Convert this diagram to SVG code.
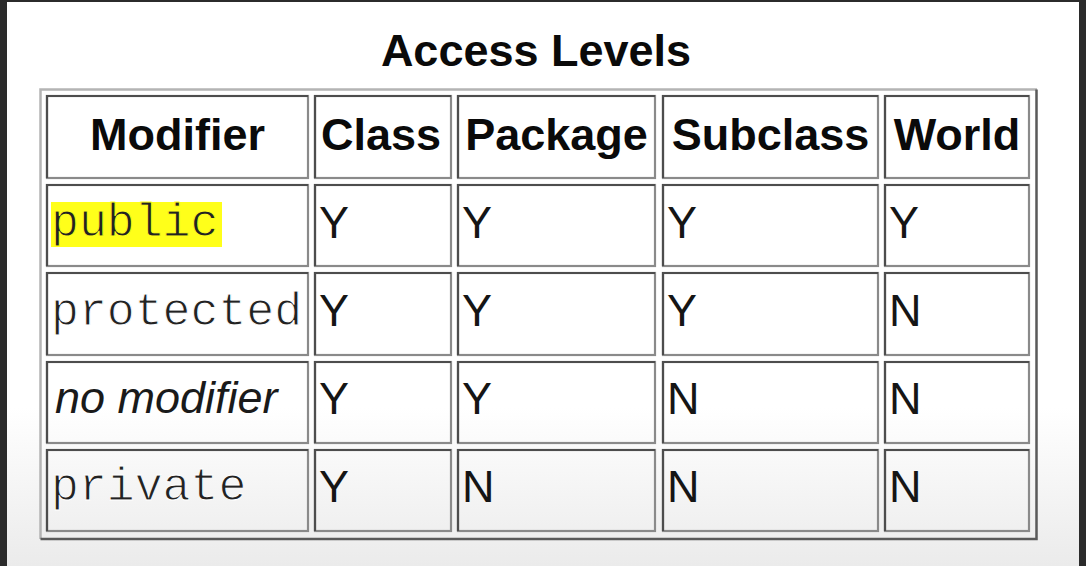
<svg xmlns="http://www.w3.org/2000/svg" width="1086" height="566" viewBox="0 0 1086 566">
  <defs>
    <linearGradient id="bg" x1="0" y1="0" x2="0" y2="1">
      <stop offset="0" stop-color="#ffffff"/>
      <stop offset="0.72" stop-color="#ffffff"/>
      <stop offset="1" stop-color="#ebebeb"/>
    </linearGradient>
  </defs>
  <style>
    .frame { fill: #2b2b2b; }
    .cell { fill: none; stroke: #8a8a8a; stroke-width: 2.2; }
    .cell-tl { fill: none; stroke: #4d4d4d; stroke-width: 2.2; }
    .outer-tl { fill: none; stroke: #b4b4b4; stroke-width: 2.5; }
    .outer-br { fill: none; stroke: #5a5a5a; stroke-width: 2.5; }
    .title { font-family: "Liberation Sans", Arial, sans-serif; font-weight: bold; font-size: 45px; fill: #0a0a0a; text-anchor: middle; }
    .hdr { font-family: "Liberation Sans", Arial, sans-serif; font-weight: bold; font-size: 45px; fill: #0a0a0a; text-anchor: middle; }
    .yn { font-family: "Liberation Sans", Arial, sans-serif; font-size: 45px; fill: #151515; }
    .mono { font-family: "Liberation Mono", "Courier New", monospace; font-size: 46.5px; fill: #222222; stroke: #ffffff; stroke-width: 1px; }
    .mono.onhl { stroke: #ffff1a; }
    .ital { font-family: "Liberation Sans", Arial, sans-serif; font-style: italic; font-size: 45px; fill: #1a1a1a; }
    .hl { fill: #ffff1a; }
  </style>

  <!-- background and screen frame -->
  <rect x="0" y="0" width="1086" height="566" fill="url(#bg)"/>
  <rect class="frame" x="0" y="0" width="1086" height="2"/>
  <rect class="frame" x="0" y="0" width="7" height="566"/>
  <rect class="frame" x="1079" y="0" width="7" height="566"/>

  <text class="title" x="536" y="66">Access Levels</text>

  <!-- outer table border (outset) -->
  <g id="table-border">
    <polyline class="outer-tl" points="40.5,539 40.5,89.5 1037,89.5"/>
    <polyline class="outer-br" points="40.5,539 1036.5,539 1036.5,89.5"/>
  </g>

  <!-- header row -->
  <g id="h-modifier">
    <rect class="cell" x="47" y="96" width="261" height="82"/>
    <polyline class="cell-tl" points="47,178 47,96 308,96"/>
    <text class="hdr" x="177.5" y="150">Modifier</text>
  </g>
  <g id="h-class">
    <rect class="cell" x="315" y="96" width="136" height="82"/>
    <polyline class="cell-tl" points="315,178 315,96 451,96"/>
    <text class="hdr" x="381" y="150">Class</text>
  </g>
  <g id="h-package">
    <rect class="cell" x="458" y="96" width="197" height="82"/>
    <polyline class="cell-tl" points="458,178 458,96 655,96"/>
    <text class="hdr" x="556.5" y="150">Package</text>
  </g>
  <g id="h-subclass">
    <rect class="cell" x="663" y="96" width="215" height="82"/>
    <polyline class="cell-tl" points="663,178 663,96 878,96"/>
    <text class="hdr" x="770.5" y="150">Subclass</text>
  </g>
  <g id="h-world">
    <rect class="cell" x="885" y="96" width="144" height="82"/>
    <polyline class="cell-tl" points="885,178 885,96 1029,96"/>
    <text class="hdr" x="957" y="150">World</text>
  </g>

  <!-- row: public -->
  <g id="r1-modifier">
    <rect class="cell" x="47" y="185" width="261" height="81"/>
    <polyline class="cell-tl" points="47,266 47,185 308,185"/>
    <rect class="hl" x="51" y="202" width="171" height="45"/>
    <text class="mono onhl" x="51" y="236">public</text>
  </g>
  <g id="r1-class">
    <rect class="cell" x="315" y="185" width="136" height="81"/>
    <polyline class="cell-tl" points="315,266 315,185 451,185"/>
    <text class="yn" x="319" y="238">Y</text>
  </g>
  <g id="r1-package">
    <rect class="cell" x="458" y="185" width="197" height="81"/>
    <polyline class="cell-tl" points="458,266 458,185 655,185"/>
    <text class="yn" x="462" y="238">Y</text>
  </g>
  <g id="r1-subclass">
    <rect class="cell" x="663" y="185" width="215" height="81"/>
    <polyline class="cell-tl" points="663,266 663,185 878,185"/>
    <text class="yn" x="667" y="238">Y</text>
  </g>
  <g id="r1-world">
    <rect class="cell" x="885" y="185" width="144" height="81"/>
    <polyline class="cell-tl" points="885,266 885,185 1029,185"/>
    <text class="yn" x="889" y="238">Y</text>
  </g>

  <!-- row: protected -->
  <g id="r2-modifier">
    <rect class="cell" x="47" y="273" width="261" height="82"/>
    <polyline class="cell-tl" points="47,355 47,273 308,273"/>
    <text class="mono" x="51" y="325">protected</text>
  </g>
  <g id="r2-class">
    <rect class="cell" x="315" y="273" width="136" height="82"/>
    <polyline class="cell-tl" points="315,355 315,273 451,273"/>
    <text class="yn" x="319" y="326">Y</text>
  </g>
  <g id="r2-package">
    <rect class="cell" x="458" y="273" width="197" height="82"/>
    <polyline class="cell-tl" points="458,355 458,273 655,273"/>
    <text class="yn" x="462" y="326">Y</text>
  </g>
  <g id="r2-subclass">
    <rect class="cell" x="663" y="273" width="215" height="82"/>
    <polyline class="cell-tl" points="663,355 663,273 878,273"/>
    <text class="yn" x="667" y="326">Y</text>
  </g>
  <g id="r2-world">
    <rect class="cell" x="885" y="273" width="144" height="82"/>
    <polyline class="cell-tl" points="885,355 885,273 1029,273"/>
    <text class="yn" x="889" y="326">N</text>
  </g>

  <!-- row: no modifier -->
  <g id="r3-modifier">
    <rect class="cell" x="47" y="362" width="261" height="81"/>
    <polyline class="cell-tl" points="47,443 47,362 308,362"/>
    <text class="ital" x="55" y="413">no modifier</text>
  </g>
  <g id="r3-class">
    <rect class="cell" x="315" y="362" width="136" height="81"/>
    <polyline class="cell-tl" points="315,443 315,362 451,362"/>
    <text class="yn" x="319" y="414">Y</text>
  </g>
  <g id="r3-package">
    <rect class="cell" x="458" y="362" width="197" height="81"/>
    <polyline class="cell-tl" points="458,443 458,362 655,362"/>
    <text class="yn" x="462" y="414">Y</text>
  </g>
  <g id="r3-subclass">
    <rect class="cell" x="663" y="362" width="215" height="81"/>
    <polyline class="cell-tl" points="663,443 663,362 878,362"/>
    <text class="yn" x="667" y="414">N</text>
  </g>
  <g id="r3-world">
    <rect class="cell" x="885" y="362" width="144" height="81"/>
    <polyline class="cell-tl" points="885,443 885,362 1029,362"/>
    <text class="yn" x="889" y="414">N</text>
  </g>

  <!-- row: private -->
  <g id="r4-modifier">
    <rect class="cell" x="47" y="450" width="261" height="81"/>
    <polyline class="cell-tl" points="47,531 47,450 308,450"/>
    <text class="mono" x="51" y="500">private</text>
  </g>
  <g id="r4-class">
    <rect class="cell" x="315" y="450" width="136" height="81"/>
    <polyline class="cell-tl" points="315,531 315,450 451,450"/>
    <text class="yn" x="319" y="502">Y</text>
  </g>
  <g id="r4-package">
    <rect class="cell" x="458" y="450" width="197" height="81"/>
    <polyline class="cell-tl" points="458,531 458,450 655,450"/>
    <text class="yn" x="462" y="502">N</text>
  </g>
  <g id="r4-subclass">
    <rect class="cell" x="663" y="450" width="215" height="81"/>
    <polyline class="cell-tl" points="663,531 663,450 878,450"/>
    <text class="yn" x="667" y="502">N</text>
  </g>
  <g id="r4-world">
    <rect class="cell" x="885" y="450" width="144" height="81"/>
    <polyline class="cell-tl" points="885,531 885,450 1029,450"/>
    <text class="yn" x="889" y="502">N</text>
  </g>

  <g id="connectors"/>
</svg>
